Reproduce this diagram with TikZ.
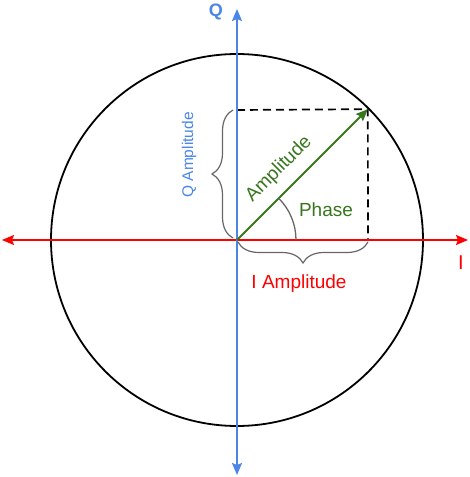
\documentclass[tikz,border=0pt]{standalone}
\usepackage{fontspec}
\setmainfont{Liberation Sans}
\usepackage{tikz}
\usetikzlibrary{positioning, arrows.meta, calc, decorations.pathreplacing}
\definecolor{axBlue}{HTML}{4A86E8}
\definecolor{axRed}{HTML}{FF0000}
\definecolor{ampGreen}{HTML}{38761D}
\definecolor{braceGray}{HTML}{666666}

\begin{document}
\begin{tikzpicture}[
    x=1pt, y=1pt,
    axarr/.style={{Stealth[length=12pt, width=10pt, inset=2pt]}-{Stealth[length=12pt, width=10pt, inset=2pt]}, line width=1.8pt},
    amparr/.style={-{Stealth[length=12pt, width=10pt, inset=2pt]}, line width=1.9pt, ampGreen},
    dashline/.style={line width=1.7pt, dash pattern=on 8pt off 5pt},
    bracket/.style={decorate, decoration={brace, amplitude=21pt}, line width=1.2pt, braceGray},
    lbl/.style={inner sep=0pt, font=\fontsize{19}{22}\selectfont}
]
\useasboundingbox (-237,-237) rectangle (232,240);

% centre and point on the circle
\coordinate (O) at (0,0);
\coordinate (P) at (45:185);
\coordinate (Ptop) at (0,130);
\coordinate (Pbot) at (131,0);

% axis ends
\coordinate (Ileft)  at (-235,0);
\coordinate (Iright) at (231,0);
\coordinate (Qtop)   at (0,231);
\coordinate (Qbot)   at (0,-235);

\draw[line width=1.8pt] (O) circle (186);

\draw[dashline] (Ptop) -- (P) -- (Pbot);

\draw[axarr, axRed] (Ileft) -- (Iright);
\draw[axarr, axBlue] (Qbot) -- (Qtop);

\draw[amparr] (O) -- (P);
\draw[line width=1.3pt, braceGray] (59,0) arc (0:45:59);

% braces
\draw[bracket] ($(O)+(-4,2)$) -- ($(Ptop)+(-4,0)$);
\draw[bracket] ($(Pbot)+(0,-2)$) -- ($(O)+(1,-2)$);

% labels
\node[lbl, text=axBlue, font=\fontsize{18}{20}\selectfont\bfseries] (qlab) at (-21,228) {Q};
\node[lbl, text=axRed, font=\fontsize{20}{22}\selectfont] (ilab) at (224,-23) {I};
\node[lbl, text=axBlue, font=\fontsize{15.5}{18}\selectfont, rotate=90] (qamp) at (-48,85) {Q Amplitude};
\node[lbl, text=axRed] (iamp) at (62,-44) {I Amplitude};
\node[lbl, text=ampGreen, rotate=45] (amp) at (42,71) {Amplitude};
\node[lbl, text=ampGreen] (phase) at (89,30) {Phase};
\end{tikzpicture}
\end{document}
